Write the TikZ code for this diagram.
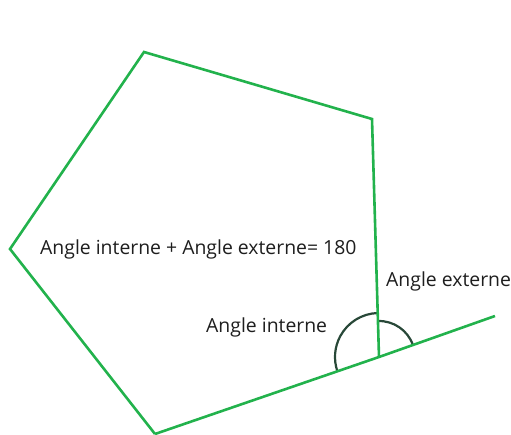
\documentclass[tikz,border=0pt]{standalone}
\usepackage{fontspec}
\setmainfont{Open Sans}
\begin{document}
\begin{tikzpicture}[x=1pt,y=1pt,
  edge/.style={draw={rgb,255:red,34;green,178;blue,76},line width=2.6pt,line join=miter},
  arcline/.style={draw={rgb,255:red,40;green,72;blue,56},line width=2.2pt},
  lbl/.style={anchor=base west,inner sep=0pt,text={rgb,255:red,30;green,30;blue,30},font=\fontsize{19.4}{22}\selectfont}]
\useasboundingbox (0,0) rectangle (511,434);
\coordinate (T) at (144,382);
\coordinate (R) at (372,315);
\coordinate (V) at (379,77);
\coordinate (B) at (155,0);
\coordinate (L) at (10,185);
\coordinate (E) at (495,118);
\draw[arcline] ([shift={(91.7:44)}]V) arc[start angle=91.7,end angle=199,radius=44];
\draw[arcline] ([shift={(19.5:36)}]V) arc[start angle=19.5,end angle=91.7,radius=36];
\draw[edge] (B) -- (L) -- (T) -- (R) -- (V);
\draw[edge] (B) -- (V) -- (E);
\node[lbl] (sum) at (40,179) {Angle interne + Angle externe= 180};
\node[lbl] (int) at (206,102) {Angle interne};
\node[lbl] (ext) at (386,147) {Angle externe};
\end{tikzpicture}
\end{document}
